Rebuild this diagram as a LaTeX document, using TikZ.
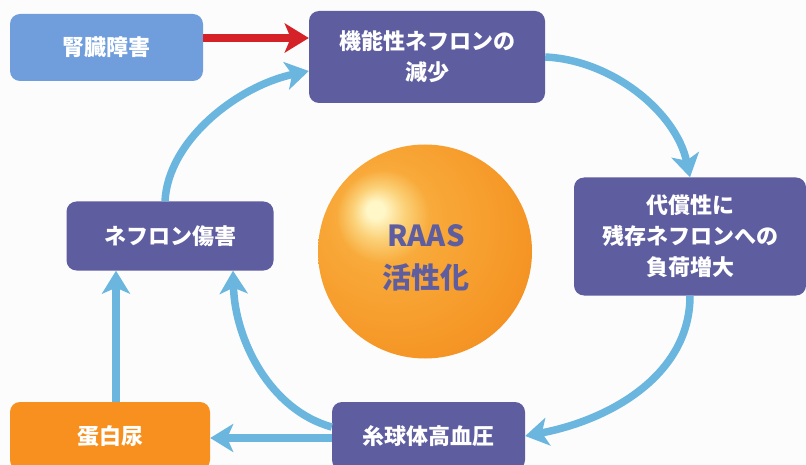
\documentclass[tikz,border=0pt]{standalone}
\usepackage{fontspec}
\setmainfont{Noto Sans CJK JP}
\usetikzlibrary{arrows.meta}
\definecolor{bgc}{HTML}{FCFCFC}
\definecolor{boxpurple}{HTML}{5E5DA0}
\definecolor{boxblue}{HTML}{709EDC}
\definecolor{boxorange}{HTML}{F7901E}
\definecolor{arrblue}{HTML}{6BB6DE}
\definecolor{arrred}{HTML}{D42228}
\definecolor{ballhi}{HTML}{FFF7C8}
\definecolor{ballmid}{HTML}{FBD27A}
\definecolor{ballor}{HTML}{F8AA3A}
\definecolor{ballor2}{HTML}{F69C2C}
\definecolor{balledge}{HTML}{F28A1A}
\pgfdeclareradialshading{raasball}{\pgfpoint{-12bp}{10bp}}{color(0bp)=(ballhi); color(2bp)=(ballhi); color(6bp)=(ballmid); color(11bp)=(ballor); color(24bp)=(ballor2); color(40bp)=(balledge); color(60bp)=(balledge)}
\tikzset{
  box/.style={rectangle, rounded corners=10pt, fill=boxpurple, text=white, align=center, inner sep=0pt,
    font=\fontsize{22}{31}\selectfont\bfseries},
  conn/.style={draw=arrblue, line width=7.5pt, -{Stealth[length=23pt, width=28pt, inset=6pt]}},
  redconn/.style={draw=arrred, line width=8pt, -{Stealth[length=24pt, width=29pt, inset=6pt]}},
}
\begin{document}
\begin{tikzpicture}[x=1pt, y=-1pt]
\clip (0,0) rectangle (806,465);
\fill[bgc] (0,0) rectangle (806,465);
% ball
\node[circle, minimum size=214pt, inner sep=0pt, shading=raasball] (ball) at (425,251.5) {};
\node[text=boxpurple, align=center, font=\fontsize{29}{42}\selectfont\bfseries] (raas) at (426,258) {RAAS\\活性化};
% boxes
\node[box, fill=boxblue, minimum width=193pt, minimum height=67pt] (kidney) at (106.5,47.5) {腎臓障害};
\node[box, minimum width=236pt, minimum height=92pt] (reduce) at (427,57) {機能性ネフロンの\\減少};
\node[box, minimum width=232pt, minimum height=118pt] (comp) at (690,236.5) {代償性に\\残存ネフロンへの\\負荷増大};
\node[box, minimum width=207pt, minimum height=69pt] (damage) at (170,236) {ネフロン傷害};
\node[box, fill=boxorange, minimum width=200pt, minimum height=68pt] (prot) at (110,436) {蛋白尿};
\node[box, minimum width=193pt, minimum height=68pt] (glom) at (428.5,436) {糸球体高血圧};
% connectors
\draw[redconn] ([yshift=9.5pt]kidney.east) -- ([yshift=9.5pt]kidney.east -| reduce.west);
\draw[conn] (reduce.east) .. controls (612,60) and (676,112) .. (comp.north);
\draw[conn] (comp.south) .. controls (690,375) and (610,420) .. (glom.east);
\draw[conn] ([yshift=9pt]glom.west) .. controls (270,410) and (235,340) .. ([xshift=63pt]damage.south);
\draw[conn] ([yshift=-2pt]glom.west) -- ([yshift=-2pt]prot.east);
\draw[conn] ([xshift=6pt]prot.north) -- ([xshift=6pt]prot.north |- damage.south);
\draw[conn] ([xshift=-5pt]damage.north) .. controls (168,140) and (238,86) .. ([yshift=-14pt]reduce.west);
\end{tikzpicture}
\end{document}
